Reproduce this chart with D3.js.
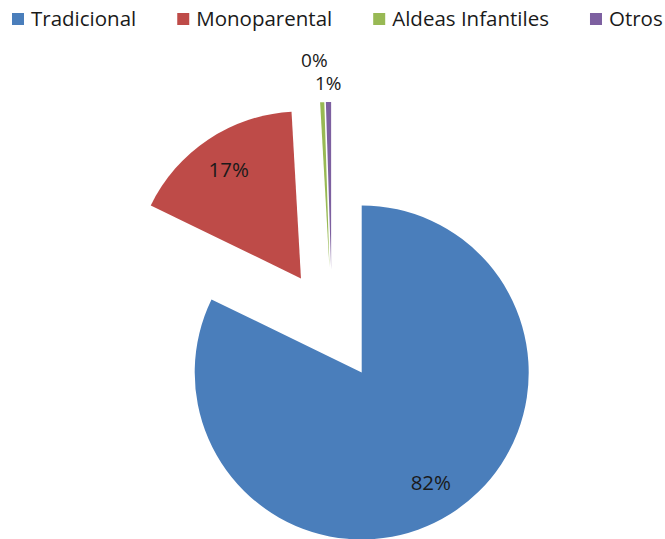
<!DOCTYPE html>
<html>
<head>
<meta charset="utf-8">
<script src="https://cdn.jsdelivr.net/npm/d3@7"></script>
<style>
  body { margin: 0; background: #fff; }
  svg { display: block; font-family: "Open Sans", sans-serif; }
</style>
</head>
<body>
<svg width="665" height="539"></svg>
<script>
// Tipos de familia - pie chart with exploded slices

const categories = ["Tradicional", "Monoparental", "Aldeas Infantiles", "Otros"];
const values = [82.2, 16.9, 0.4, 0.5];
const colors = ["#4a7ebb", "#be4b48", "#98b954", "#7d60a0"];

const width = 665;
const height = 539;
const cx = 332;
const cy = 325;
const radius = 167;
const explode = 56;
const fontSize = 20.5;

const svg = d3.select("svg");

const pie = d3.pie().sort(null).value((d) => d);
const arcs = pie(values);

const arc = d3.arc().innerRadius(0).outerRadius(radius);
const insideLabel = d3.arc().innerRadius(radius * 0.78).outerRadius(radius * 0.78);

const offset = (d) => {
  const mid = (d.startAngle + d.endAngle) / 2;
  return [Math.sin(mid) * explode, -Math.cos(mid) * explode];
};

const g = svg.append("g").attr("transform", `translate(${cx},${cy})`);

const slices = g
  .selectAll("g.slice")
  .data(arcs)
  .enter()
  .append("g")
  .attr("class", "slice")
  .attr("transform", (d) => {
    const o = offset(d);
    return `translate(${o[0]},${o[1]})`;
  });

slices
  .append("path")
  .attr("d", arc)
  .attr("fill", (d, i) => colors[i]);

const pct = (v) => Math.round(v) + "%";

// labels: big slices inside, tiny slices stacked above
const outsideRadius = [0, 0, 209, 186];
const outsideShift = [0, 0, -6, 0];

slices
  .append("text")
  .attr("transform", (d, i) => {
    if (i < 2) {
      const c = insideLabel.centroid(d);
      return `translate(${c[0]},${c[1]})`;
    }
    const c = d3.arc().innerRadius(outsideRadius[i]).outerRadius(outsideRadius[i]).centroid(d);
    return `translate(${c[0] + outsideShift[i]},${c[1]})`;
  })
  .attr("text-anchor", "middle")
  .attr("dy", "0.35em")
  .attr("font-size", (d, i) => (i < 2 ? fontSize : 19))
  .attr("fill", "#1a1a1a")
  .text((d) => pct(d.data));

// legend
const legend = svg.append("g").attr("class", "legend");
let lx = 12;
categories.forEach((name, i) => {
  legend
    .append("rect")
    .attr("x", lx)
    .attr("y", 13)
    .attr("width", 12)
    .attr("height", 12)
    .attr("fill", colors[i]);
  const t = legend
    .append("text")
    .attr("x", lx + 19)
    .attr("y", 26)
    .attr("font-size", fontSize)
    .attr("fill", "#1a1a1a")
    .text(name);
  lx += 19 + t.node().getComputedTextLength() + 41;
});
</script>
</body>
</html>
